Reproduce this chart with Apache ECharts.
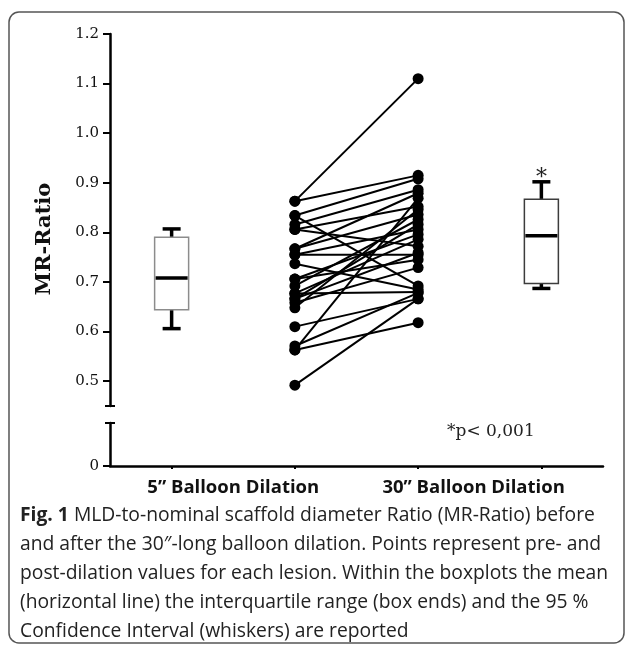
<!DOCTYPE html>
<html><head><meta charset="utf-8">
<script src="https://cdn.jsdelivr.net/npm/echarts@6/dist/echarts.min.js"></script>
<style>html,body{margin:0;padding:0;background:#fff}#c{width:627px;height:645px}</style>
</head><body><div id="c"></div>
<script>
// ---- data ----
const groupLabels = ['5\u201d Balloon Dilation', '30\u201d Balloon Dilation'];
const yTickValues = [0.5, 0.6, 0.7, 0.8, 0.9, 1.0, 1.1, 1.2];
// paired pre (5") and post (30") MR-Ratio per lesion
const preValues  = [0.863, 0.863, 0.834, 0.834, 0.816, 0.806, 0.806, 0.767, 0.767, 0.755, 0.755, 0.737, 0.706, 0.706, 0.692, 0.677, 0.677, 0.666, 0.658, 0.648, 0.610, 0.571, 0.563, 0.563, 0.492, 0.666];
const postValues = [1.110, 0.915, 0.908, 0.692, 0.886, 0.772, 0.852, 0.879, 0.836, 0.755, 0.806, 0.685, 0.796, 0.745, 0.826, 0.680, 0.786, 0.816, 0.729, 0.846, 0.666, 0.678, 0.869, 0.618, 0.666, 0.759];
// boxplots: [lower whisker, box low, mean, box high, upper whisker]
const box5  = [0.606, 0.644, 0.708, 0.790, 0.807];
const box30 = [0.687, 0.697, 0.793, 0.867, 0.902];
const pText = '*p< 0,001';
const captionLines = [
  '{b|Fig. 1} MLD-to-nominal scaffold diameter Ratio (MR-Ratio) before',
  'and after the 30\u2033-long balloon dilation. Points represent pre- and',
  'post-dilation values for each lesion. Within the boxplots the mean',
  '(horizontal line) the interquartile range (box ends) and the 95 %',
  'Confidence Interval (whiskers) are reported'
];
// x slots
const X_BOX5 = 1, X_PRE = 2, X_POST = 3, X_BOX30 = 4;

const chart = echarts.init(document.getElementById('c'), null, {renderer: 'canvas'});

function renderBox(params, api) {
  const x = api.value(0);
  const lo = api.coord([x, api.value(1)]);
  const q1 = api.coord([x, api.value(2)]);
  const md = api.coord([x, api.value(3)]);
  const q3 = api.coord([x, api.value(4)]);
  const hi = api.coord([x, api.value(5)]);
  const cx = lo[0], hw = 17, cw = 9;
  const boxColor = params.dataIndex === 0 ? '#8c8c8c' : '#3c3c3c';
  const blk = {stroke: '#000', lineWidth: 3.5};
  const ch = [
    {type: 'line', shape: {x1: cx, y1: lo[1], x2: cx, y2: q1[1]}, style: blk},
    {type: 'line', shape: {x1: cx, y1: q3[1], x2: cx, y2: hi[1]}, style: blk},
    {type: 'line', shape: {x1: cx - cw, y1: lo[1], x2: cx + cw, y2: lo[1]}, style: blk},
    {type: 'line', shape: {x1: cx - cw, y1: hi[1], x2: cx + cw, y2: hi[1]}, style: blk},
    {type: 'rect', shape: {x: cx - hw, y: q3[1], width: 2 * hw, height: q1[1] - q3[1]}, style: {fill: '#fff', stroke: boxColor, lineWidth: 1.5}},
    {type: 'line', shape: {x1: cx - hw + 1, y1: md[1], x2: cx + hw - 1, y2: md[1]}, style: blk}
  ];
  if (api.value(6)) {
    ch.push({type: 'text', style: {text: '*', x: cx, y: hi[1] - 4, align: 'center', verticalAlign: 'middle', font: '22px "DejaVu Serif"', fill: '#222'}});
  }
  return {type: 'group', children: ch};
}

const pairSeries = preValues.map((p, i) => ({
  type: 'line', xAxisIndex: 0, yAxisIndex: 0, silent: true,
  data: [[X_PRE, p], [X_POST, postValues[i]]],
  symbol: 'circle', symbolSize: 11, showSymbol: true,
  lineStyle: {color: '#000', width: 2},
  itemStyle: {color: '#000'},
  z: 3
}));

const tickStyle = {color: '#000', width: 2};
function capAxis(grid, min, max, val, inside) {
  return {gridIndex: grid, type: 'value', min, max, position: 'left', offset: 0,
    axisLine: {show: false}, splitLine: {show: false}, axisLabel: {show: false},
    axisTick: {show: true, inside, customValues: [val], length: 5, lineStyle: tickStyle}};
}

chart.setOption({
  animation: false,
  grid: [
    {left: 110, top: 34, width: 493, height: 372},
    {left: 110, top: 423, width: 493, height: 43}
  ],
  xAxis: [
    {gridIndex: 0, type: 'value', min: 0.5, max: 4.5, show: false},
    {gridIndex: 1, type: 'value', min: 0.5, max: 4.5,
      axisLine: {lineStyle: {color: '#000', width: 2.5}},
      axisTick: {customValues: [1, 2, 3, 4], length: 3, lineStyle: tickStyle},
      axisLabel: {customValues: [1.5, 3.45], formatter: v => (v < 2 ? groupLabels[0] : groupLabels[1]),
        fontFamily: 'Open Sans', fontWeight: 'bold', fontSize: 18.5, color: '#111', margin: 12},
      splitLine: {show: false}}
  ],
  yAxis: [
    {gridIndex: 0, type: 'value', min: 0.45, max: 1.2, position: 'left',
      axisLine: {show: true, lineStyle: {color: '#000', width: 2.5}},
      axisTick: {show: true, customValues: yTickValues, length: 7, lineStyle: tickStyle},
      axisLabel: {customValues: yTickValues, formatter: v => v.toFixed(1), fontFamily: 'DejaVu Serif', fontSize: 15, color: '#111', margin: 11},
      splitLine: {show: false}},
    capAxis(0, 0.45, 1.2, 0.45, false),
    capAxis(0, 0.45, 1.2, 0.45, true),
    {gridIndex: 1, type: 'value', min: 0, max: 1, position: 'left',
      axisLine: {show: true, lineStyle: {color: '#000', width: 2.5}},
      axisTick: {show: true, customValues: [0], length: 7, lineStyle: tickStyle},
      axisLabel: {customValues: [0], formatter: () => '0', fontFamily: 'DejaVu Serif', fontSize: 15, color: '#111', margin: 11},
      splitLine: {show: false}},
    capAxis(1, 0, 1, 1, false),
    capAxis(1, 0, 1, 1, true)
  ],
  series: [
    {type: 'custom', xAxisIndex: 0, yAxisIndex: 0, renderItem: renderBox, silent: true, clip: false,
      encode: {x: 0, y: [1, 2, 3, 4, 5]},
      data: [[X_BOX5].concat(box5, [0]), [X_BOX30].concat(box30, [1])], z: 2}
  ].concat(pairSeries),
  graphic: [
    {type: 'rect', silent: true, shape: {x: 9, y: 12, width: 615, height: 631, r: 10}, style: {fill: 'none', stroke: '#555', lineWidth: 1.5}},
    {type: 'text', silent: true, x: 45, y: 239, rotation: Math.PI / 2,
      style: {text: 'MR-Ratio', font: 'bold 21px "DejaVu Serif"', fill: '#111', align: 'center', verticalAlign: 'middle'}},
    {type: 'text', silent: true, x: 447, y: 432,
      style: {text: pText, font: '17px "DejaVu Serif"', fill: '#222', align: 'left', verticalAlign: 'middle'}},
    {type: 'text', silent: true, x: 20, y: 501,
      style: {text: captionLines.join('\n'), fontFamily: 'Open Sans', fontSize: 19.3, lineHeight: 29, fill: '#222',
        rich: {b: {fontFamily: 'Open Sans', fontWeight: 'bold', fontSize: 19.3, lineHeight: 29, fill: '#222'}}}}
  ]
});
</script></body></html>
